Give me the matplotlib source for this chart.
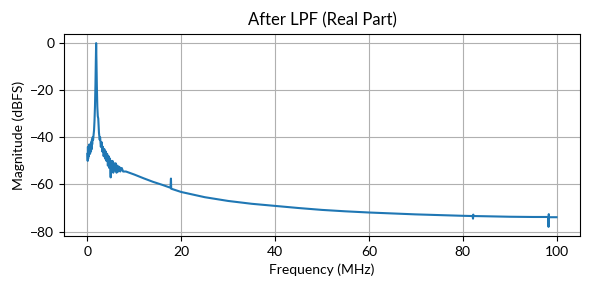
import matplotlib
matplotlib.use("Agg")
import matplotlib.pyplot as plt

plt.rcParams['font.family'] = ['Lato', 'DejaVu Sans']

# spectrum, frequency in MHz, magnitude in dBFS
freq_mhz = [
    0.0, 0.05, 0.1, 0.15, 0.2, 0.25, 0.3, 0.35, 0.4, 0.45, 0.5, 0.55, 0.6,
    0.7, 0.75, 0.8, 0.9, 0.95, 1.0, 1.1, 1.2, 1.3, 1.4, 1.5, 1.6, 1.7, 1.78,
    1.85, 1.92, 2.0, 2.1, 2.2, 2.3, 2.45, 2.6, 2.7, 2.85, 3.0, 3.15, 3.3,
    3.45, 3.6, 3.75, 3.9, 4.05, 4.2, 4.35, 4.5, 4.65, 4.8, 4.95, 5.05, 5.2,
    5.35, 5.5, 5.65, 5.8, 6.0, 6.2, 6.4, 6.6, 6.8, 7.0, 7.3, 7.6, 8.2,
    10.0, 12.0, 14.0, 16.0, 17.7, 17.8, 17.85, 20.0, 25.0, 30.0, 35.0,
    40.0, 45.0, 50.0, 55.0, 60.0, 65.0, 70.0, 75.0, 80.0, 82.1, 82.2, 82.25,
    82.3, 85.0, 90.0, 95.0, 98.2, 98.3, 98.35, 98.4, 100.0,
]
mag_dbfs = [
    -47, -50, -44, -49, -45, -48, -44, -47, -43, -46, -44, -47, -45,
    -43, -46, -42, -45, -41, -43, -40, -41, -39, -37, -33, -27, -18, -8,
    0, -8, -18, -27, -31, -32, -38, -41, -40, -44, -42, -46, -44,
    -48, -45, -49, -46, -50, -47, -52, -48, -53, -49, -57, -50, -54,
    -50, -55, -51, -54, -51, -55, -52, -54.5, -52.5, -54.5, -53, -54.5, -54.5,
    -55.8, -57.4, -58.9, -60.2, -61.4, -57.5, -61.8, -63.2, -65.4, -67.0, -68.2,
    -69.1, -70.0, -70.8, -71.4, -71.9, -72.3, -72.7, -73.0, -73.3, -73.4, -74.5, -72.8,
    -73.4, -73.5, -73.7, -73.8, -73.8, -78.0, -72.6, -73.9, -73.9,
]

fig, ax = plt.subplots(figsize=(5.9, 2.9), dpi=100)
fig.subplots_adjust(left=0.1085, right=0.983, top=0.883, bottom=0.186)
ax.plot(freq_mhz, mag_dbfs, color='tab:blue', lw=1.5)
ax.set_title("After LPF (Real Part)")
ax.set_xlabel("Frequency (MHz)")
ax.set_ylabel("Magnitude (dBFS)")
ax.set_xticks([0, 20, 40, 60, 80, 100])
ax.set_yticks([0, -20, -40, -60, -80])
ax.grid(True)
fig.savefig("out.png", dpi=100)
